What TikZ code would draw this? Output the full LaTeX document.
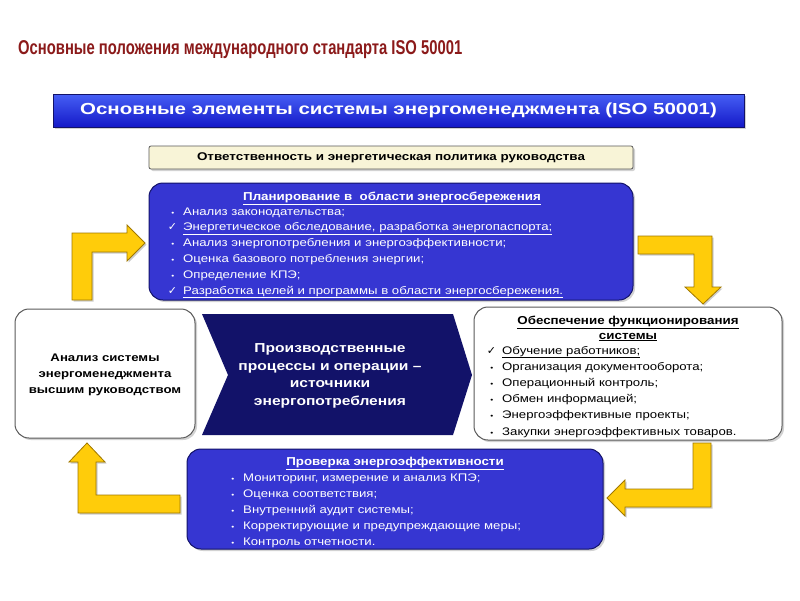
\documentclass[tikz,border=0pt]{standalone}
\usepackage{fontspec}
\setmainfont[FakeStretch=1.2]{Liberation Sans}
\newfontfamily\titlefont[FakeStretch=0.74]{Liberation Sans}
\newfontfamily\bannerfont[FakeStretch=1.28]{Liberation Sans}
\newfontfamily\headfont[FakeStretch=1.16]{Liberation Sans}
\newfontfamily\symfont{DejaVu Sans}
\usetikzlibrary{shadows}
\definecolor{titlered}{RGB}{139,26,26}
\definecolor{bannertop}{RGB}{70,95,245}
\definecolor{bannerbot}{RGB}{20,25,200}
\definecolor{boxblue}{RGB}{54,54,210}
\definecolor{navy}{RGB}{18,18,105}
\definecolor{arrowyel}{RGB}{255,204,10}
\definecolor{arrowedge}{RGB}{160,120,0}
\definecolor{beige}{RGB}{248,244,215}
\definecolor{boxedge}{RGB}{90,90,90}
\newcommand{\bul}{\makebox[0pt][r]{{\fontsize{7}{7}\selectfont •}\hspace{9pt}}}
\newcommand{\chk}{\makebox[0pt][r]{{\symfont\fontsize{11}{11}\selectfont ✓}\hspace{6pt}}}
\tikzset{
  shd/.style={drop shadow={shadow xshift=2pt,shadow yshift=-2pt,opacity=0.35}},
  bluebox/.style={draw=navy, line width=1pt, fill=boxblue, rounded corners=14pt, shd},
  whitebox/.style={draw=boxedge, line width=1pt, fill=white, rounded corners=14pt, shd},
  item/.style={inner sep=0pt, anchor=base west, font=\fontsize{11}{13}\selectfont},
  witem/.style={item, text=white},
  btitle/.style={inner sep=0pt, anchor=base, font=\headfont\bfseries\fontsize{11.5}{13}\selectfont},
  yarrow/.style={fill=arrowyel, draw=arrowedge, line width=0.8pt, line join=miter,
     drop shadow={shadow xshift=1.5pt,shadow yshift=-1.5pt,opacity=0.4}},
}
\begin{document}
\begin{tikzpicture}[x=1pt,y=-1pt]
\useasboundingbox[fill=white] (0,0) rectangle (800,600);
% title
\node[inner sep=0pt, anchor=base west, text=titlered, font=\titlefont\bfseries\fontsize{20}{22}\selectfont] (title) at (18,54) {Основные положения международного стандарта ISO 50001};
% banner
\node[draw=navy, line width=0.8pt, top color=bannertop, bottom color=bannerbot, minimum width=691pt, minimum height=33pt, inner sep=0pt, shd,
  text=white, font=\bannerfont\bfseries\fontsize{16}{18}\selectfont] (banner) at (398.5,110.5) {Основные элементы системы энергоменеджмента (ISO 50001)};
% beige
\node[draw=boxedge, line width=0.8pt, fill=beige, rounded corners=2pt, minimum width=484pt, minimum height=23pt, inner sep=0pt, shd,
  font=\bfseries\fontsize{11.2}{13}\selectfont] (resp) at (391,157.5) {Ответственность и энергетическая политика руководства};
% planning box
\node[bluebox, minimum width=484pt, minimum height=117pt] (plan) at (391,241.5) {};
\node[btitle, text=white] (plant) at (392,200) {\underline{Планирование в\ \ области энергосбережения}};
\node[witem] (p1) at (183,215) {\bul Анализ законодательства;};
\node[witem] (p2) at (183,230.8) {\chk\underline{Энергетическое обследование, разработка энергопаспорта;}};
\node[witem] (p3) at (183,246.6) {\bul Анализ энергопотребления и энергоэффективности;};
\node[witem] (p4) at (183,262.4) {\bul Оценка базового потребления энергии;};
\node[witem] (p5) at (183,278.2) {\bul Определение КПЭ;};
\node[witem] (p6) at (183,294) {\chk\underline{Разработка целей и программы в области энергосбережения.}};
% left box
\node[whitebox, minimum width=180pt, minimum height=129pt] (anal) at (105,373.5) {};
\node[inner sep=0pt, align=center, font=\bfseries\fontsize{11}{16}\selectfont] (analt) at (105,375) {Анализ системы\\энергоменеджмента\\высшим руководством};
% chevron
\fill[navy] (202,314) -- (453,314) -- (472,375) -- (453,435) -- (202,435) -- (228,375) -- cycle;
\node[inner sep=0pt, align=center, text=white, font=\bfseries\fontsize{13}{17.5}\selectfont] (proc) at (330,376) {Производственные\\процессы и операции –\\источники\\энергопотребления};
% right box
\node[whitebox, minimum width=308pt, minimum height=133pt] (supp) at (628,373.5) {};
\node[btitle] (suppt1) at (628,324) {\underline{Обеспечение функционирования}};
\node[btitle] (suppt2) at (628,339) {\underline{системы}};
\node[item] (s1) at (502,354) {\chk\underline{Обучение работников;}};
\node[item] (s2) at (502,370.2) {\bul Организация документооборота;};
\node[item] (s3) at (502,386.4) {\bul Операционный контроль;};
\node[item] (s4) at (502,402.6) {\bul Обмен информацией;};
\node[item] (s5) at (502,418.8) {\bul Энергоэффективные проекты;};
\node[item] (s6) at (502,435) {\bul Закупки энергоэффективных товаров.};
% bottom box
\node[bluebox, minimum width=416pt, minimum height=100pt] (check) at (395,499) {};
\node[btitle, text=white] (checkt) at (395,465) {\underline{Проверка энергоэффективности}};
\node[witem] (c1) at (243,481) {\bul Мониторинг, измерение и анализ КПЭ;};
\node[witem] (c2) at (243,497) {\bul Оценка соответствия;};
\node[witem] (c3) at (243,513) {\bul Внутренний аудит системы;};
\node[witem] (c4) at (243,529) {\bul Корректирующие и предупреждающие меры;};
\node[witem] (c5) at (243,545) {\bul Контроль отчетности.};
% yellow arrows
\path[yarrow] (72,300) -- (72,233) -- (127,233) -- (127,225) -- (145,243) -- (127,261) -- (127,252) -- (92,252) -- (92,300) -- cycle;
\path[yarrow] (638,236) -- (712,236) -- (712,287) -- (721,287) -- (703,304) -- (685,287) -- (694,287) -- (694,254) -- (638,254) -- cycle;
\path[yarrow] (693,443) -- (711,443) -- (711,507) -- (625,507) -- (625,516) -- (607,498) -- (625,480) -- (625,489) -- (693,489) -- cycle;
\path[yarrow] (87,443) -- (105,462) -- (96,462) -- (96,495) -- (180,495) -- (180,513) -- (78,513) -- (78,462) -- (69,462) -- cycle;
\end{tikzpicture}
\end{document}
